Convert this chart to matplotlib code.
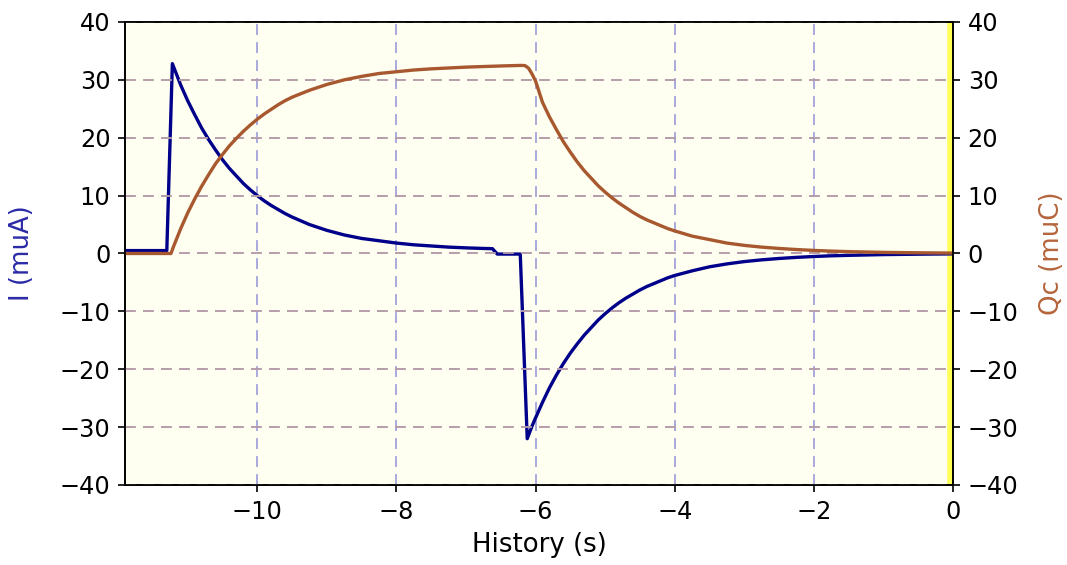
import matplotlib
matplotlib.use("Agg")
import matplotlib.pyplot as plt

# current through the circuit (muA)
t_I = [-11.9, -11.30, -11.22, -11.1, -11.0, -10.9, -10.8, -10.7, -10.6, -10.5,
       -10.4, -10.3, -10.2, -10.1, -10.0, -9.9, -9.8, -9.7, -9.6, -9.5,
       -9.25, -9.0, -8.75, -8.5, -8.25, -8.0, -7.75, -7.5, -7.25, -7.0,
       -6.75, -6.62, -6.55, -6.22, -6.12, -6.05, -6.0, -5.9, -5.8, -5.7,
       -5.6, -5.5, -5.4, -5.3, -5.2, -5.1, -5.0, -4.9, -4.8, -4.7,
       -4.6, -4.5, -4.4, -4.3, -4.2, -4.1, -4.0, -3.75, -3.5, -3.25,
       -3.0, -2.75, -2.5, -2.25, -2.0, -1.75, -1.5, -1.0, -0.5, 0.0]
I_vals = [0.5, 0.5, 32.8, 29.1, 26.4, 24.0, 21.7, 19.7, 17.9, 16.2,
          14.7, 13.4, 12.1, 11.0, 10.0, 9.1, 8.3, 7.6, 6.9, 6.3,
          5.0, 4.0, 3.2, 2.6, 2.2, 1.8, 1.5, 1.3, 1.1, 0.97,
          0.87, 0.83, -0.1, -0.1, -32.0, -29.8, -28.4, -25.7, -23.2, -21.0,
          -19.0, -17.2, -15.6, -14.1, -12.8, -11.5, -10.4, -9.4, -8.5, -7.7,
          -7.0, -6.3, -5.7, -5.2, -4.7, -4.2, -3.8, -3.0, -2.3, -1.8,
          -1.4, -1.1, -0.86, -0.67, -0.52, -0.40, -0.32, -0.19, -0.12, -0.07]

# charge on the capacitor (muC)
t_Q = [-11.9, -11.24, -11.2, -11.1, -11.0, -10.9, -10.8, -10.7, -10.6, -10.5,
       -10.4, -10.3, -10.2, -10.1, -10.0, -9.9, -9.8, -9.7, -9.6, -9.5,
       -9.25, -9.0, -8.75, -8.5, -8.25, -8.0, -7.75, -7.5, -7.0, -6.5,
       -6.2, -6.15, -6.1, -6.05, -6.0, -5.9, -5.8, -5.7, -5.6, -5.5,
       -5.4, -5.3, -5.2, -5.1, -5.0, -4.9, -4.8, -4.7, -4.6, -4.5,
       -4.4, -4.3, -4.2, -4.1, -4.0, -3.75, -3.5, -3.25, -3.0, -2.75,
       -2.5, -2.25, -2.0, -1.75, -1.5, -1.0, -0.5, 0.0]
Q_vals = [0.0, 0.0, 1.3, 4.3, 7.0, 9.4, 11.6, 13.6, 15.5, 17.1,
          18.6, 19.9, 21.1, 22.2, 23.2, 24.1, 24.9, 25.7, 26.4, 27.0,
          28.2, 29.2, 30.0, 30.6, 31.1, 31.4, 31.7, 31.9, 32.2, 32.4,
          32.5, 32.45, 32.0, 31.0, 29.8, 26.1, 23.6, 21.4, 19.3, 17.5,
          15.8, 14.3, 13.0, 11.7, 10.6, 9.6, 8.7, 7.9, 7.1, 6.4,
          5.8, 5.3, 4.8, 4.3, 3.9, 3.0, 2.4, 1.8, 1.4, 1.1,
          0.87, 0.68, 0.53, 0.41, 0.32, 0.19, 0.12, 0.07]

y_ticks = [-40, -30, -20, -10, 0, 10, 20, 30, 40]
x_ticks = [-10, -8, -6, -4, -2, 0]

plt.rcParams['font.size'] = 11.5

fig = plt.figure(figsize=(1067/150., 565/150.), dpi=150)
ax1 = fig.add_axes([0.1172, 0.1416, 0.7760, 0.8195])
ax1.set_facecolor('#fefff0')
ax2 = ax1.twinx()

# grids: bluish vertical, mauve horizontal
ax1.grid(axis='x', color='#a6a6dc', lw=0.9, dashes=(5.8, 3.8))
ax2.grid(axis='y', color='#b39aa8', lw=0.9, dashes=(5.8, 3.8))
ax1.set_axisbelow(True)

ax1.axvline(0, color='#ffff55', lw=6)

ax1.plot(t_I, I_vals, color='darkblue', lw=1.6, zorder=3)
ax2.plot(t_Q, Q_vals, color='#a8582f', lw=1.6)

ax1.set_xlim(-11.9, 0)
ax1.set_ylim(-40, 40)
ax2.set_ylim(-40, 40)
ax1.set_xticks(x_ticks)
ax1.set_yticks(y_ticks)
ax2.set_yticks(y_ticks)

ax1.set_xlabel('History (s)', fontsize=12.5)
ax1.set_ylabel('I (muA)', color='#2b2ba6', fontsize=12.5, labelpad=12)
ax2.set_ylabel('Qc (muC)', color='#b5653c', fontsize=12.5, labelpad=10)

fig.savefig('out.png', dpi=150)
